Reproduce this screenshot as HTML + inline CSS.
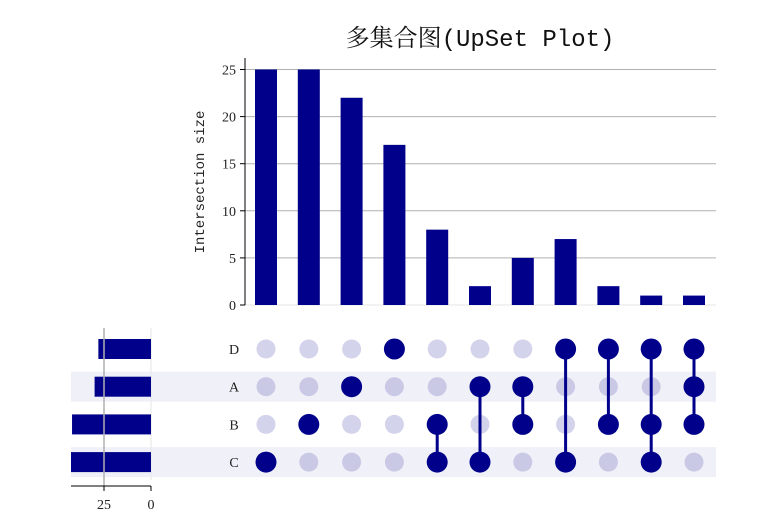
<!DOCTYPE html>
<html><head><meta charset="utf-8"><style>
html,body{margin:0;padding:0;background:#fff;}
svg{display:block;font-family:"Liberation Serif","Noto Serif CJK SC",serif;}
</style></head><body>
<svg id="c" width="762" height="532"></svg>
<script>
const sets = ["D","A","B","C"];
const intersectionSizes = [25,25,22,17,8,2,5,7,2,1,1];
const memberships = [["C"],["B"],["A"],["D"],["B","C"],["A","C"],["A","B"],["C","D"],["B","D"],["B","C","D"],["A","B","D"]];
const setSizes = [28,30,42,43];
const yTicks = [0,5,10,15,20,25];
const xTicks = [25,0];

const NS="http://www.w3.org/2000/svg";
const svg=document.getElementById('c');
function mk(t,a,p){const e=document.createElementNS(NS,t);for(const k in a)e.setAttribute(k,a[k]);(p||svg).appendChild(e);return e;}
const navy="#00008b";
const colX=i=>266+i*42.8;
const y0=305, yS=(305-69.5)/25;
const yv=v=>y0-v*yS;
const rowY=i=>349+i*37.7;
const sx0=151, sS=(151-104)/25;
const sx=v=>sx0-v*sS;

// title
let t=mk('text',{x:480,y:46,'text-anchor':'middle','font-size':24,fill:'#111','font-family':'"Liberation Mono","Noto Serif CJK SC",monospace'});
t.textContent='多集合图(UpSet Plot)';


// shaded rows
sets.forEach((s,i)=>{if(i%2===1){const r=mk('rect',{x:71,y:rowY(i)-15,width:645,height:30,fill:'#f0f1f8'});
}});

// grid & y ticks
yTicks.forEach(v=>{
  const g=mk('line',{x1:245,x2:716,y1:yv(v),y2:yv(v),stroke:v===0?'#e6e6e6':'#b0b0b0','stroke-width':1});
  
  mk('line',{x1:240,x2:245,y1:yv(v),y2:yv(v),stroke:'#000'});
  const l=mk('text',{x:236,y:yv(v)+5,'text-anchor':'end','font-size':14,fill:'#222'});l.textContent=v;
  
});
const ax=mk('line',{x1:245,x2:245,y1:58,y2:305,stroke:'#000'});

const yt=mk('text',{x:0,y:0,transform:'translate(204,182) rotate(-90)','text-anchor':'middle','font-size':14,fill:'#222','font-family':'"Liberation Mono",monospace'});
yt.textContent='Intersection size';

// bars
intersectionSizes.forEach((v,i)=>{
  const b=mk('rect',{x:colX(i)-11,y:yv(v),width:22,height:v*yS,fill:navy});
  
});

// set size bars
mk('line',{x1:151,x2:151,y1:328,y2:480,stroke:'#e6e6e6'});
setSizes.forEach((v,i)=>{
  const w=Math.min(v*sS,151-71);
  const b=mk('rect',{x:151-w,y:rowY(i)-10,width:w,height:20,fill:navy});
  
});
mk('line',{x1:104,x2:104,y1:328,y2:486,stroke:'#b0b0b0','stroke-width':1.5});
const sa=mk('line',{x1:71,x2:151,y1:486,y2:486,stroke:'#000'});

xTicks.forEach(v=>{
  mk('line',{x1:sx(v),x2:sx(v),y1:486,y2:491,stroke:'#000'});
  const l=mk('text',{x:sx(v),y:509,'text-anchor':'middle','font-size':14,fill:'#222'});l.textContent=v;
  
});

// set labels
sets.forEach((s,i)=>{
  const l=mk('text',{x:234,y:rowY(i)+5,'text-anchor':'middle','font-size':14,fill:'#222'});l.textContent=s;
  
});

// matrix
memberships.forEach((m,i)=>{
  const idx=m.map(s=>sets.indexOf(s));
  sets.forEach((s,j)=>{
    if(!idx.includes(j)){const c=mk('circle',{cx:colX(i),cy:rowY(j),r:9.5,fill:j%2?'#c9c9e6':'#d3d3ec'});
      }
  });
  if(idx.length>1){const a=Math.min(...idx),b=Math.max(...idx);
    const ln=mk('line',{x1:colX(i),x2:colX(i),y1:rowY(a),y2:rowY(b),stroke:navy,'stroke-width':3});
    }
  idx.forEach(j=>{const c=mk('circle',{cx:colX(i),cy:rowY(j),r:10.5,fill:navy});
    });
});
</script>
</body></html>
